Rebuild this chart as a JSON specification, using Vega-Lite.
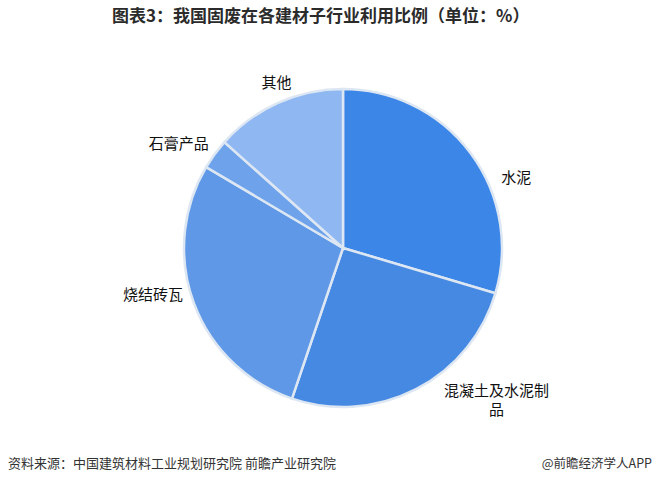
{
  "$schema": "https://vega.github.io/schema/vega-lite/v6.json",
  "padding": {"top": 8, "left": 0, "right": 0, "bottom": 0},
  "background": "white",
  "config": {"view": {"stroke": null}, "font": "Noto Sans CJK SC"},
  "datasets": {
    "share": [
      {"category": "水泥", "value": 29.6, "order": 1},
      {"category": "混凝土及水泥制品", "value": 25.6, "order": 2},
      {"category": "烧结砖瓦", "value": 28.3, "order": 3},
      {"category": "石膏产品", "value": 3.1, "order": 4},
      {"category": "其他", "value": 13.4, "order": 5}
    ],
    "blank": [{"k": 1}]
  },
  "spacing": -9,
  "vconcat": [
    {
      "width": 686,
      "height": 436,
      "title": {"text": "图表3：我国固废在各建材子行业利用比例（单位：%）", "fontSize": 17, "fontWeight": "bold", "color": "#2b2b2b", "anchor": "start", "dx": 112, "offset": 4, "font": "Noto Sans CJK SC"},
      "data": {"name": "share"},
      "encoding": {
        "theta": {"field": "value", "type": "quantitative", "stack": true},
        "order": {"field": "order", "type": "quantitative"}
      },
      "layer": [
        {
          "mark": {"type": "arc", "outerRadius": 159, "stroke": "#dde7f3", "strokeWidth": 2.5},
          "encoding": {
            "color": {"field": "category", "type": "nominal", "legend": null,
              "scale": {"domain": ["水泥", "混凝土及水泥制品", "烧结砖瓦", "石膏产品", "其他"],
                        "range": ["#3b86e7", "#4689e2", "#5e98e6", "#6ea3eb", "#8fb8f2"]}}
          }
        },
        {
          "mark": {"type": "text", "radius": 175, "align": "left", "baseline": "middle", "fontSize": 15, "color": "#111111", "dx": 18, "dy": 35},
          "encoding": {"text": {"condition": {"test": "datum.category === '水泥'", "field": "category"}, "value": ""}}
        },
        {
          "mark": {"type": "text", "radius": 175, "align": "center", "baseline": "middle", "fontSize": 15, "color": "#111111", "dx": 73, "dy": -12, "lineBreak": "|", "lineHeight": 19},
          "encoding": {"text": {"condition": {"test": "datum.category === '混凝土及水泥制品'", "value": "混凝土及水泥制|品"}, "value": ""}}
        },
        {
          "mark": {"type": "text", "radius": 175, "align": "right", "baseline": "middle", "fontSize": 15, "color": "#111111", "dx": 4, "dy": -14},
          "encoding": {"text": {"condition": {"test": "datum.category === '烧结砖瓦'", "field": "category"}, "value": ""}}
        },
        {
          "mark": {"type": "text", "radius": 175, "align": "right", "baseline": "middle", "fontSize": 15, "color": "#111111", "dx": 7, "dy": -1},
          "encoding": {"text": {"condition": {"test": "datum.category === '石膏产品'", "field": "category"}, "value": ""}}
        },
        {
          "mark": {"type": "text", "radius": 175, "align": "center", "baseline": "middle", "fontSize": 15, "color": "#111111", "dx": 5, "dy": -5},
          "encoding": {"text": {"condition": {"test": "datum.category === '其他'", "field": "category"}, "value": ""}}
        }
      ]
    },
    {
      "spacing": 0,
      "hconcat": [
        {
          "width": 350, "height": 1,
          "data": {"name": "blank"},
          "title": {"text": "资料来源：中国建筑材料工业规划研究院 前瞻产业研究院", "fontSize": 13, "fontWeight": "normal", "color": "#333333", "anchor": "start", "dx": 8, "offset": 0, "font": "Noto Sans CJK SC"},
          "mark": {"type": "text", "text": ""},
          "encoding": {}
        },
        {
          "width": 302, "height": 1,
          "data": {"name": "blank"},
          "title": {"text": "@前瞻经济学人APP", "fontSize": 12.5, "fontWeight": "normal", "color": "#333333", "anchor": "end", "offset": 0, "font": "Noto Sans CJK SC"},
          "mark": {"type": "text", "text": ""},
          "encoding": {}
        }
      ]
    }
  ]
}
